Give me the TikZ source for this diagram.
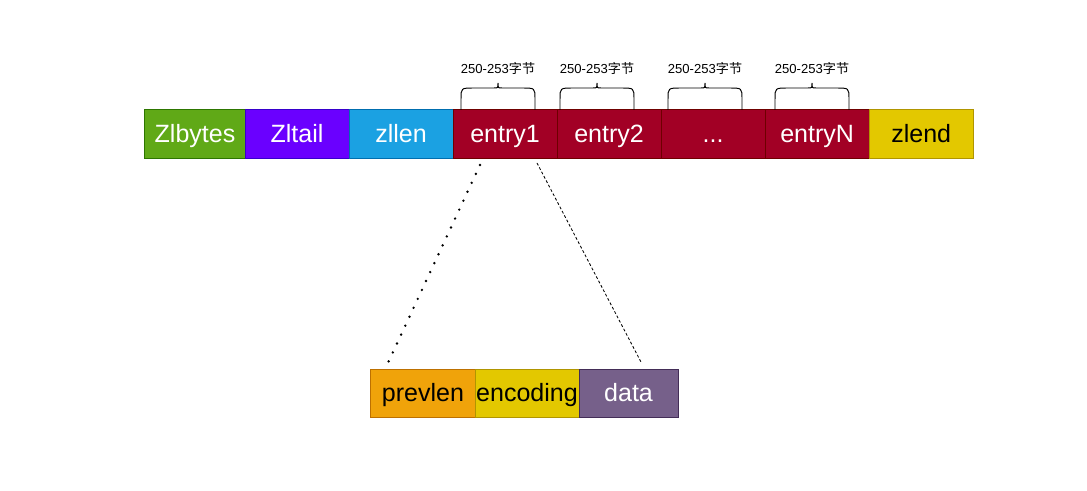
\documentclass[tikz,border=0pt]{standalone}
\usepackage{fontspec}
\setmainfont{Liberation Sans}
\newfontfamily\cjk{Noto Sans CJK SC}
\usetikzlibrary{positioning}

\definecolor{zgreen}{HTML}{60A917}
\definecolor{zgreenline}{HTML}{2D7600}
\definecolor{zpurple}{HTML}{6A00FF}
\definecolor{zpurpleline}{HTML}{3700CC}
\definecolor{zblue}{HTML}{1BA1E2}
\definecolor{zblueline}{HTML}{006EAF}
\definecolor{zred}{HTML}{A20025}
\definecolor{zredline}{HTML}{6F0000}
\definecolor{zyellow}{HTML}{E3C800}
\definecolor{zyellowline}{HTML}{B09500}
\definecolor{zorange}{HTML}{F0A30A}
\definecolor{zorangeline}{HTML}{BD7000}
\definecolor{zviolet}{HTML}{76608A}
\definecolor{zvioletline}{HTML}{432D57}

\tikzset{
  cell/.style={draw, line width=0.7pt, minimum width=2.6cm, minimum height=1.2cm,
    inner sep=0pt, outer sep=0pt, text=white, text height=14pt, text depth=2.6pt,
    font=\fontsize{17.8}{20}\selectfont},
  lbl/.style={inner sep=0pt, font=\fontsize{9.3}{11}\selectfont},
}

\begin{document}
\begin{tikzpicture}[x=0.025cm, y=-0.025cm]
  \useasboundingbox (0,0) rectangle (1087,491);
  % ziplist
  \node[cell, fill=zgreen, draw=zgreenline, minimum width=2.5cm] (zlbytes) at (195,134) {Zlbytes};
  \node[cell, fill=zpurple, draw=zpurpleline, right=0pt of zlbytes] (zltail) {Zltail};
  \node[cell, fill=zblue, draw=zblueline, right=0pt of zltail] (zllen) {zllen};
  \node[cell, fill=zred, draw=zredline, right=0pt of zllen] (entry1) {entry1};
  \node[cell, fill=zred, draw=zredline, right=0pt of entry1] (entry2) {entry2};
  \node[cell, fill=zred, draw=zredline, right=0pt of entry2] (dots) {...};
  \node[cell, fill=zred, draw=zredline, right=0pt of dots] (entryN) {entryN};
  \node[cell, fill=zyellow, draw=zyellowline, text=black, right=0pt of entryN] (zlend) {zlend};
  % byte braces
  \foreach \bx [count=\i] in {461,560,668,775}{
    \draw[line width=0.7pt] (\bx,110) -- (\bx,99) .. controls (\bx,88) .. (\bx+13,88)
      -- (\bx+33,88) .. controls (\bx+37,88) .. (\bx+37,83)
      .. controls (\bx+37,88) .. (\bx+41,88) -- (\bx+61,88)
      .. controls (\bx+74,88) .. (\bx+74,99) -- (\bx+74,110);
    \node[lbl] (size\i) at (\bx+37,68) {250-253{\cjk 字节}};
  }
  % entry
  \node[cell, fill=zorange, draw=zorangeline, text=black] (prevlen) at (423,393) {prevlen};
  \node[cell, fill=zyellow, draw=zyellowline, text=black, right=0pt of prevlen] (encoding) {encoding};
  \node[cell, fill=zviolet, draw=zvioletline, minimum width=2.475cm, right=0pt of encoding] (data) {data};
  \coordinate (e1l) at (480,165);
  \coordinate (e1r) at (537,163);
  \coordinate (pl) at (387,365);
  \coordinate (dr) at (641,362);
  \draw[line width=1.9pt, line cap=round, dash pattern=on 0pt off 7pt] (e1l) -- (pl);
  \draw[line width=0.6pt, dash pattern=on 2pt off 1.5pt] (e1r) -- (dr);
\end{tikzpicture}
\end{document}
